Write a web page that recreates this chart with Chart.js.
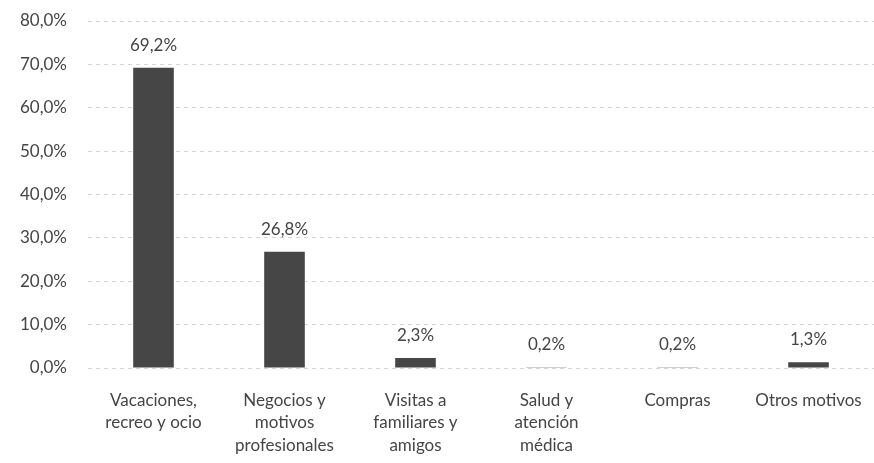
<!DOCTYPE html>
<html><head><meta charset="utf-8">
<script src="https://cdn.jsdelivr.net/npm/chart.js@4.4.1/dist/chart.umd.min.js"></script>
<style>html,body{margin:0;padding:0;background:#fff;overflow:hidden}#wrap{position:relative;width:874px;height:478px}</style>
</head><body><div id="wrap"><canvas id="c"></canvas></div>
<script>
const categories = [
  ["Vacaciones,", "recreo y ocio"],
  ["Negocios y", "motivos", "profesionales"],
  ["Visitas a", "familiares y", "amigos"],
  ["Salud y", "atención", "médica"],
  ["Compras"],
  ["Otros motivos"]
];
const values = [69.2, 26.8, 2.3, 0.2, 0.2, 1.3];
const yTicks = [0, 10, 20, 30, 40, 50, 60, 70, 80];

const fmt = v => v.toFixed(1).replace('.', ',') + '%';
const FONT = 'Lato, "Open Sans", sans-serif';

const labelPlugin = {
  id: 'vlabels',
  afterDatasetsDraw(chart) {
    const ctx = chart.ctx;
    const meta = chart.getDatasetMeta(0);
    ctx.save();
    ctx.fillStyle = '#454545';
    ctx.font = '17px ' + FONT;
    ctx.textAlign = 'center';
    ctx.textBaseline = 'bottom';
    meta.data.forEach((bar, i) => {
      ctx.fillText(fmt(values[i]), bar.x, bar.y - 14);
    });
    ctx.restore();
  }
};

new Chart(document.getElementById('c'), {
  type: 'bar',
  data: {
    labels: categories,
    datasets: [{
      data: values,
      backgroundColor: '#464646',
      borderWidth: 0,
      barPercentage: 0.31,
      categoryPercentage: 1
    }]
  },
  options: {
    responsive: true,
    maintainAspectRatio: false,
    animation: false,
    layout: { padding: { top: 21, right: 0, left: 0, bottom: 0 } },
    plugins: { legend: { display: false }, tooltip: { enabled: false } },
    scales: {
      x: {
        grid: { display: false, drawTicks: false },
        border: { display: false },
        ticks: { color: '#454545', font: { family: FONT, size: 17, lineHeight: 1.32 }, padding: 21, maxRotation: 0, autoSkip: false },
        afterFit: s => { s.height = 110; s.paddingLeft = 0; s.paddingRight = 0; }
      },
      y: {
        min: 0, max: 80,
        afterBuildTicks: s => { s.ticks = yTicks.map(v => ({ value: v })); },
        grid: { color: '#d4d4d4', drawTicks: false, lineWidth: 1 },
        border: { display: false, dash: [4, 4] },
        ticks: { color: '#454545', font: { family: FONT, size: 17 }, padding: 21, callback: v => fmt(v) },
        afterFit: s => { s.width = 88; s.paddingTop = 0; s.paddingBottom = 0; }
      }
    }
  },
  plugins: [labelPlugin]
});
</script></body></html>
